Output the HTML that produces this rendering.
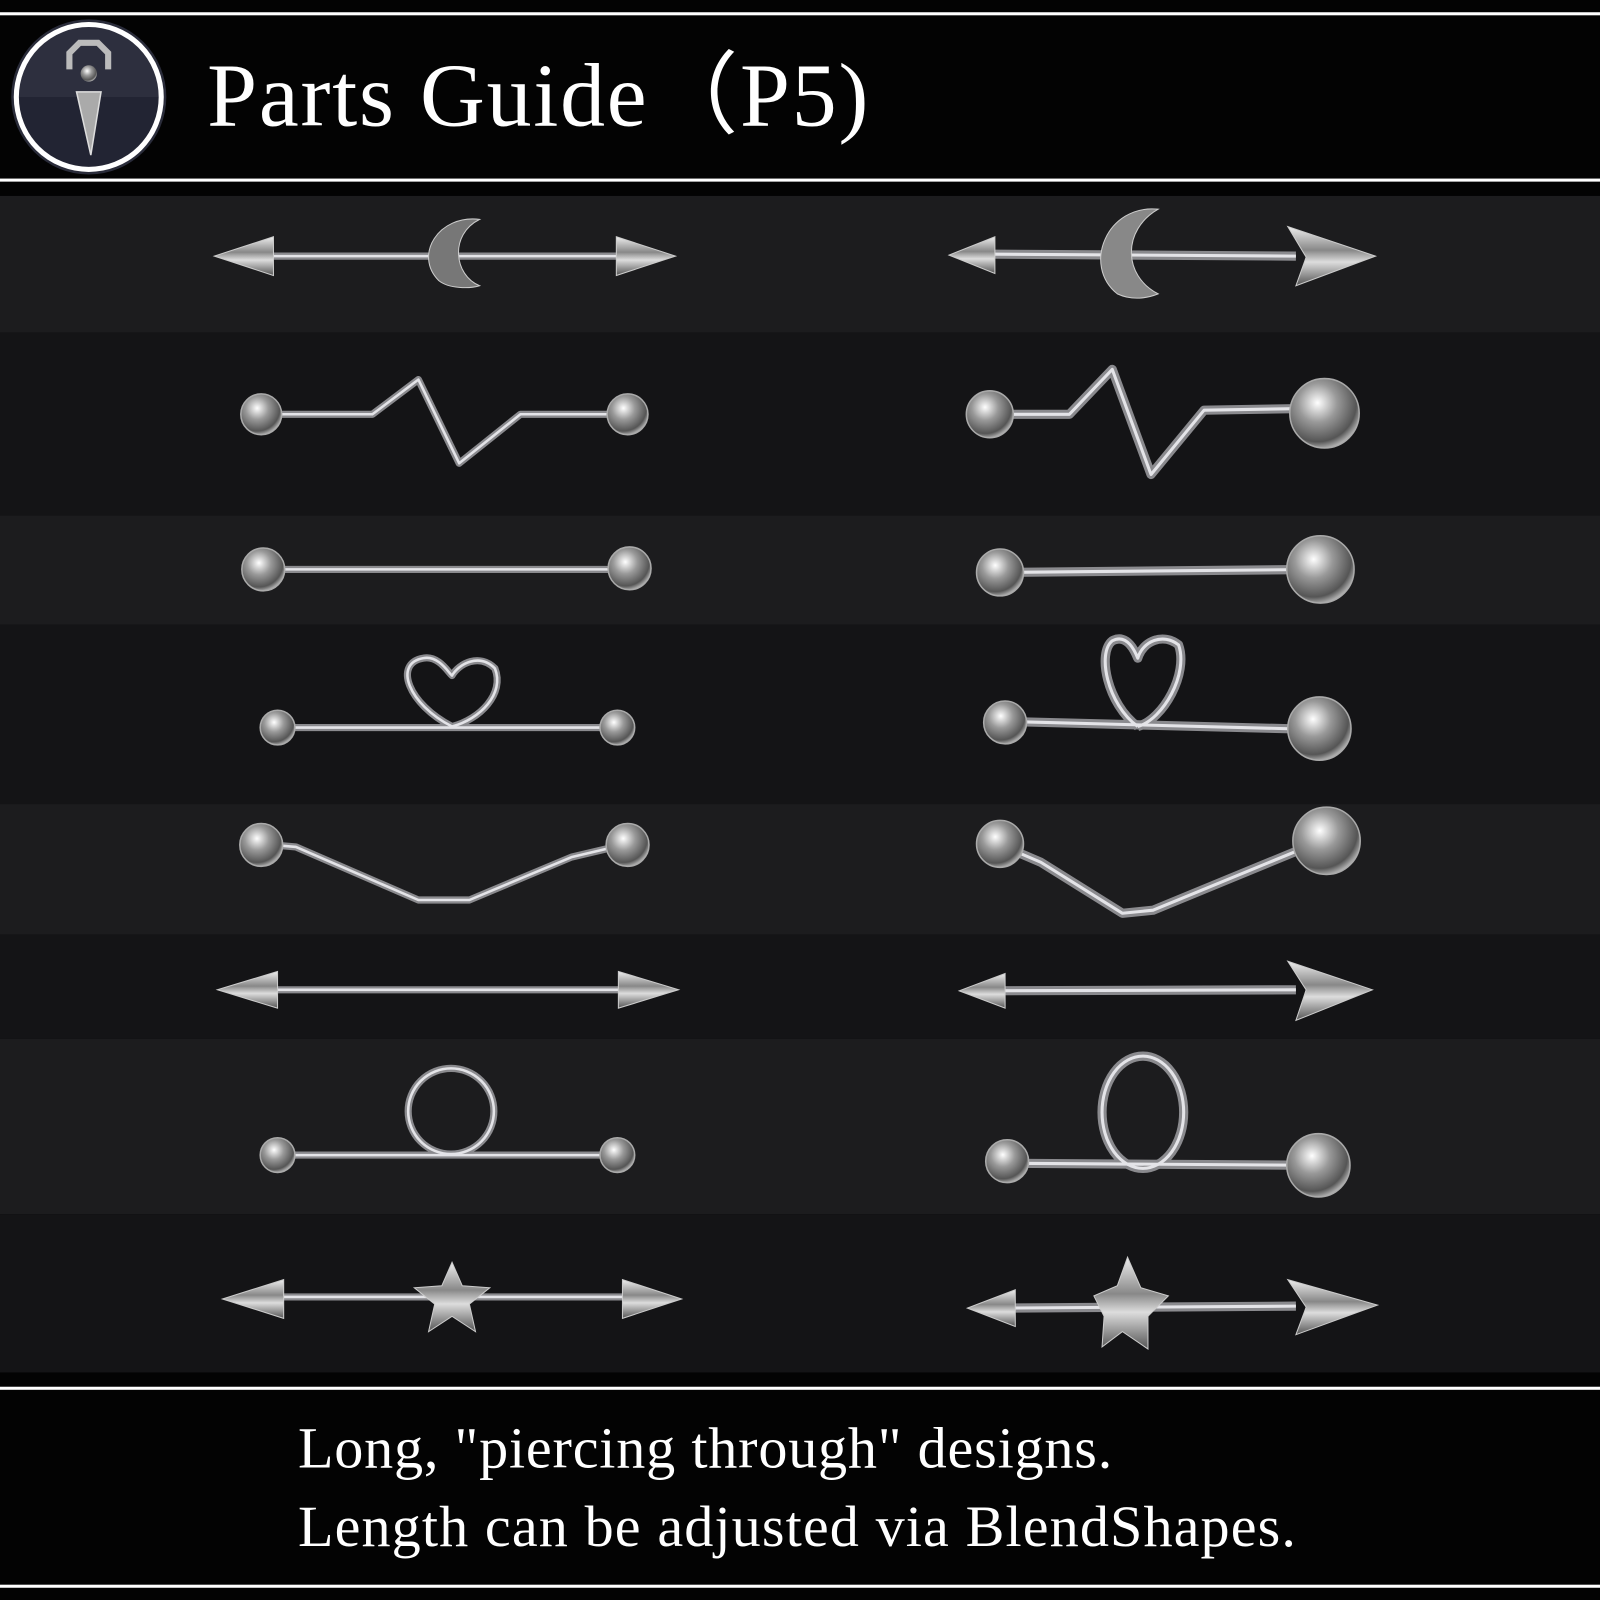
<!DOCTYPE html>
<html><head><meta charset="utf-8"><style>
html,body{margin:0;padding:0;background:#000;}
svg{display:block}
text{font-family:"Liberation Serif",serif;fill:#fff}
</style></head><body>
<svg width="1600" height="1600" viewBox="0 0 1568 1568" xmlns="http://www.w3.org/2000/svg">
<defs>
<linearGradient id="m" x1="0" y1="0" x2="0" y2="1">
<stop offset="0" stop-color="#eee"/><stop offset=".4" stop-color="#888"/><stop offset=".6" stop-color="#ddd"/><stop offset="1" stop-color="#555"/>
</linearGradient>
<radialGradient id="b" cx=".4" cy=".35" r=".7">
<stop offset="0" stop-color="#fff"/><stop offset=".4" stop-color="#999"/><stop offset=".8" stop-color="#555"/><stop offset="1" stop-color="#ccc"/>
</radialGradient>
<linearGradient id="ic" x1="0" y1="0" x2="0" y2="1"><stop offset=".5" stop-color="#2d2f3e"/><stop offset=".5" stop-color="#222433"/></linearGradient>
<g id="wl">
<line x1="260" y1="251" x2="610" y2="251"/>
<line x1="260" y1="970" x2="612" y2="970"/>
<line x1="270" y1="1271" x2="615" y2="1271"/>
<polyline points="255,406 365,406 410,372 450,454 510,406 615,406"/>
<line x1="255" y1="558" x2="615" y2="558"/>
<line x1="270" y1="713" x2="605" y2="713"/>
<path d="M443 712 C400 690 385 650 415 645 C430 642 440 660 443 662 C450 650 470 640 485 655 C495 680 470 705 443 712"/>
<polyline points="255,827 290,830 410,882 460,882 560,840 615,827"/>
<line x1="270" y1="1132" x2="605" y2="1132"/>
<circle cx="442" cy="1089" r="42"/>
</g>
<g id="wr">
<line x1="960" y1="249" x2="1270" y2="251"/>
<line x1="960" y1="971" x2="1270" y2="970"/>
<line x1="970" y1="1282" x2="1270" y2="1280"/>
<polyline points="968,406 1048,406 1090,362 1128,465 1180,402 1298,400"/>
<line x1="980" y1="561" x2="1295" y2="558"/>
<line x1="985" y1="707" x2="1295" y2="715"/>
<path d="M1115 712 C1085 690 1075 640 1090 628 C1105 620 1113 640 1115 645 C1120 628 1140 620 1155 632 C1165 660 1140 705 1115 712"/>
<polyline points="978,827 1020,845 1100,895 1130,892 1300,822"/>
<line x1="985" y1="1140" x2="1295" y2="1142"/>
<ellipse cx="1120" cy="1090" rx="40" ry="55"/>
</g>
</defs>
<rect width="1568" height="1568" fill="#030303"/>
<rect x="0" y="12" width="1568" height="3" fill="#fff"/>
<rect x="0" y="175" width="1568" height="3" fill="#fff"/>
<rect x="0" y="1359" width="1568" height="3" fill="#fff"/>
<rect x="0" y="1553" width="1568" height="3" fill="#fff"/>
<rect x="0" y="192" width="1568" height="134" fill="#1c1c1e"/>
<rect x="0" y="326" width="1568" height="179" fill="#141416"/>
<rect x="0" y="505" width="1568" height="107" fill="#1c1c1e"/>
<rect x="0" y="612" width="1568" height="176" fill="#141416"/>
<rect x="0" y="788" width="1568" height="128" fill="#1c1c1e"/>
<rect x="0" y="916" width="1568" height="102" fill="#141416"/>
<rect x="0" y="1018" width="1568" height="172" fill="#1c1c1e"/>
<rect x="0" y="1190" width="1568" height="155" fill="#141416"/>
<circle cx="87" cy="95" r="76" fill="#2a2c3a"/>
<circle cx="87" cy="95" r="71" fill="url(#ic)" stroke="#fff" stroke-width="5"/>
<path d="M68 68 V52 L78 42 H96 L106 52 V68" fill="none" stroke="#bbb" stroke-width="6"/>
<circle cx="87" cy="72" r="8" fill="url(#b)"/>
<path d="M75 90 L99 90 L89 152 Z" fill="#aaa" stroke="#ddd" stroke-width="1.5"/>
<text x="203" y="123" font-size="88" textLength="648" lengthAdjust="spacing">Parts Guide（P5)</text>
<text x="292" y="1438" font-size="57" textLength="798" lengthAdjust="spacing">Long, "piercing through" designs.</text>
<text x="292" y="1515" font-size="57" textLength="978" lengthAdjust="spacing">Length can be adjusted via BlendShapes.</text>
<g fill="none" stroke-linejoin="round">
<use href="#wl" stroke="#8a8a8e" stroke-width="7"/>
<use href="#wl" stroke="#e4e4e8" stroke-width="2.5"/>
<use href="#wr" stroke="#8a8a8e" stroke-width="9"/>
<use href="#wr" stroke="#e4e4e8" stroke-width="3"/>
</g>
<g fill="url(#m)" stroke="#ccc" stroke-width="1">
<path d="M210 251 L268 232 L268 270 Z"/><path d="M662 251 L604 232 L604 270 Z"/>
<path d="M213 970 L272 952 L272 988 Z"/><path d="M665 970 L606 952 L606 988 Z"/>
<path d="M218 1273 L278 1254 L278 1292 Z"/><path d="M668 1273 L610 1254 L610 1292 Z"/>
<path d="M930 250 L975 232 L975 268 Z"/><path d="M1348 251 L1262 222 L1280 252 L1270 280 Z"/>
<path d="M940 971 L985 954 L985 988 Z"/><path d="M1345 970 L1262 942 L1280 970 L1270 1000 Z"/>
<path d="M948 1282 L995 1264 L995 1300 Z"/><path d="M1350 1279 L1262 1254 L1280 1281 L1270 1308 Z"/>
<path d="M470 215 C430 210 405 250 430 275 C440 283 460 283 470 280 C445 270 440 230 470 215 Z" fill="#777"/>
<path d="M1135 205 C1085 200 1060 260 1095 288 C1110 295 1125 292 1135 288 C1100 270 1100 225 1135 205 Z" fill="#888"/>
<path d="M443 1237 L453 1260 L480 1262 L460 1278 L466 1305 L443 1290 L420 1305 L426 1278 L406 1262 L433 1260 Z"/>
<path d="M1105 1232 L1118 1262 L1145 1270 L1125 1290 L1125 1322 L1100 1305 L1080 1320 L1082 1290 L1072 1270 L1095 1260 Z"/>
</g>
<g fill="url(#b)" stroke="#aaa" stroke-width="1.5">
<circle cx="256" cy="406" r="20"/><circle cx="615" cy="406" r="20"/>
<circle cx="258" cy="558" r="21"/><circle cx="617" cy="557" r="21"/>
<circle cx="272" cy="713" r="17"/><circle cx="605" cy="713" r="17"/>
<circle cx="256" cy="828" r="21"/><circle cx="615" cy="828" r="21"/>
<circle cx="272" cy="1132" r="17"/><circle cx="605" cy="1132" r="17"/>
<circle cx="970" cy="406" r="23"/><circle cx="1298" cy="405" r="34"/>
<circle cx="980" cy="561" r="23"/><circle cx="1294" cy="558" r="33"/>
<circle cx="985" cy="708" r="21"/><circle cx="1293" cy="714" r="31"/>
<circle cx="980" cy="827" r="23"/><circle cx="1300" cy="824" r="33"/>
<circle cx="987" cy="1138" r="21"/><circle cx="1292" cy="1142" r="31"/>
</g>
</svg>
</body></html>
